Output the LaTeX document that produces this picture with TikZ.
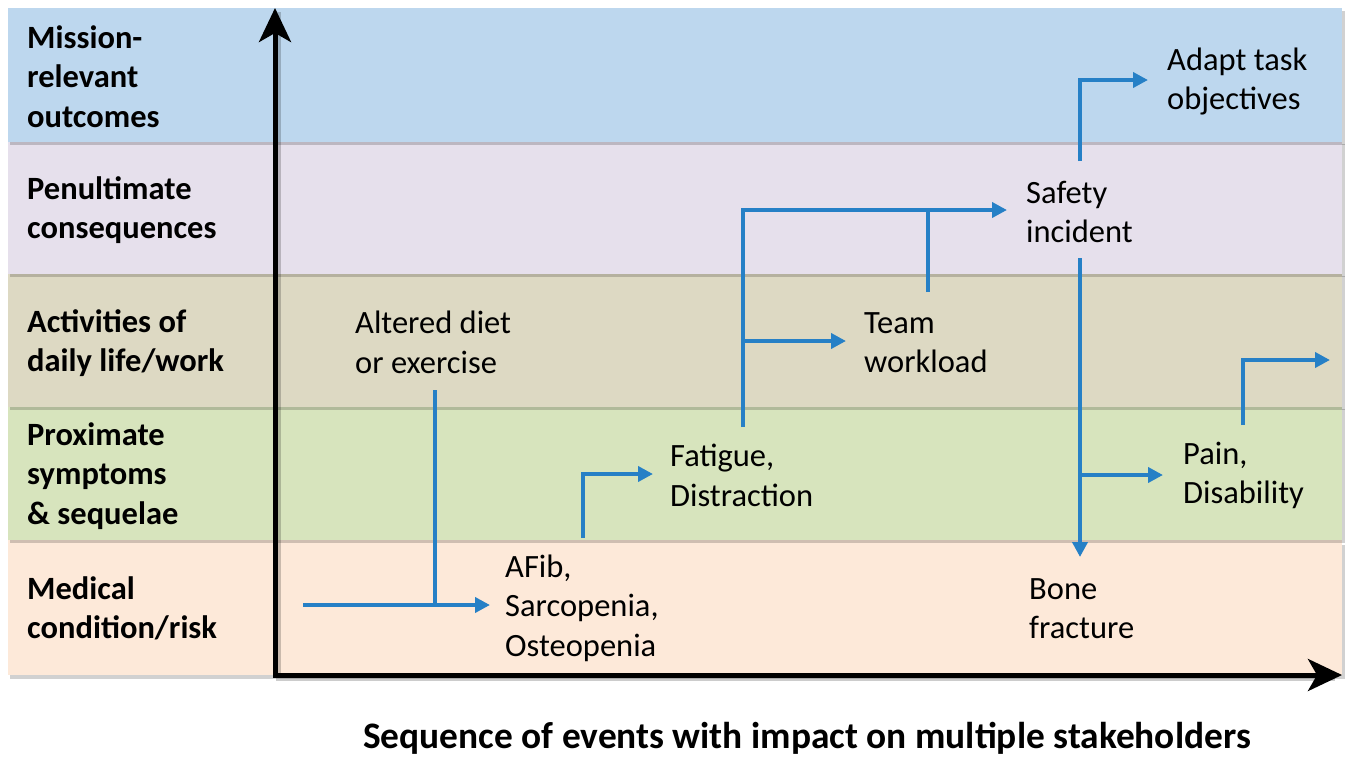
\documentclass[tikz,border=0pt]{standalone}
\usepackage{fontspec}
\setmainfont{Carlito}
\usetikzlibrary{arrows.meta}

\definecolor{bandBlue}{RGB}{189,215,238}
\definecolor{bandLilac}{RGB}{230,224,236}
\definecolor{bandTan}{RGB}{221,217,195}
\definecolor{bandGreen}{RGB}{215,228,189}
\definecolor{bandPeach}{RGB}{253,233,217}
\definecolor{flowBlue}{RGB}{38,128,198}

\tikzset{
  band/.style={fill=#1, draw=none},
  bandshadow/.style={fill=black, opacity=0.18, draw=none},
  rowlabel/.style={anchor=west, inner sep=0pt, align=left,
    font=\fontsize{32.5}{39.5}\selectfont\bfseries},
  event/.style={anchor=west, inner sep=0pt, align=left,
    font=\fontsize{32.5}{39.5}\selectfont},
  flowline/.style={draw=flowBlue, line width=4.3pt},
  flow/.style={flowline, -{Triangle[length=15pt,width=15pt]}},
  axis/.style={draw=black, line width=5pt, line join=miter,
    {Stealth[length=34pt,width=32pt,inset=9pt]}-{Stealth[length=34pt,width=32pt,inset=9pt]}},
  axisshadow/.style={draw=black, opacity=0.2, line width=5pt}
}

\begin{document}
\begin{tikzpicture}[x=1pt,y=-1pt]
\useasboundingbox[fill=white] (0,0) rectangle (1350,758);

% horizontal bands, bottom row first so each shadow falls on the row below
\fill[bandshadow] (10,545) rectangle (1345,679);
\fill[band=bandPeach] (8,540) rectangle (1342,675);
\fill[bandshadow] (10,409) rectangle (1345,543);
\fill[band=bandGreen] (8,407) rectangle (1342,540);
\fill[bandshadow] (10,276) rectangle (1345,410);
\fill[band=bandTan] (8,274) rectangle (1342,407);
\fill[bandshadow] (10,144) rectangle (1345,277);
\fill[band=bandLilac] (8,142) rectangle (1342,274);
\fill[bandshadow] (10,11) rectangle (1345,145);
\fill[band=bandBlue] (8,8) rectangle (1342,142);

% row labels
\node[rowlabel] (rowMission) at (27,76.5) {Mission-\\relevant\\outcomes};
\node[rowlabel] (rowPenult) at (27,210) {Penultimate\\consequences};
\node[rowlabel] (rowDaily) at (27,343) {Activities of\\daily life/work};
\node[rowlabel] (rowProx) at (27,476) {Proximate\\symptoms\\\& sequelae};
\node[rowlabel] (rowMed) at (27,608.5) {Medical\\condition/risk};

% axes
\draw[axisshadow] (278,12) -- (278,678) -- (1335,678);
\draw[axis] (275,8) -- (275,675) -- (1342,675);

% events
\node[event] (altered) at (355,342.5) {Altered diet\\or exercise};
\node[event] (afib) at (505,608) {AFib,\\Sarcopenia,\\Osteopenia};
\node[event] (fatigue) at (670,475.5) {Fatigue,\\Distraction};
\node[event] (team) at (864,342.5) {Team\\workload};
\node[event] (safety) at (1026,212) {Safety\\incident};
\node[event] (adapt) at (1167,81.5) {Adapt task\\objectives};
\node[event] (pain) at (1183,475.5) {Pain,\\Disability};
\node[event] (bone) at (1029,608.5) {Bone\\fracture};

% connector end points and junctions
\coordinate (startIn) at (303,605);
\coordinate (alteredOut) at (435,390);
\coordinate (alteredJoin) at (435,605);
\coordinate (afibIn) at (490,605);
\coordinate (afibOut) at (583,538);
\coordinate (fatigueIn) at (653,474);
\coordinate (fatigueOut) at (743,427);
\coordinate (fatigueBranch) at (743,341);
\coordinate (teamIn) at (846,341);
\coordinate (safetyIn) at (1007,210);
\coordinate (teamOut) at (928,292);
\coordinate (safetyUp) at (1080,161);
\coordinate (adaptIn) at (1148,80);
\coordinate (safetyDown) at (1080,258);
\coordinate (boneIn) at (1080,557);
\coordinate (safetyBranch) at (1080,475);
\coordinate (painIn) at (1163,475);
\coordinate (painOut) at (1243,425);
\coordinate (painNext) at (1330,360);

% connectors
\draw[flow] (startIn) -- (afibIn);
\draw[flowline] (alteredOut) -- (alteredJoin);
\draw[flow] (afibOut) |- (fatigueIn);
\draw[flow] (fatigueOut) |- (safetyIn);
\draw[flow] (fatigueBranch) -- (teamIn);
\draw[flowline] (teamOut) -- (teamOut |- safetyIn);
\draw[flow] (safetyUp) |- (adaptIn);
\draw[flow] (safetyDown) -- (boneIn);
\draw[flow] (safetyBranch) -- (painIn);
\draw[flow] (painOut) |- (painNext);

% caption under the horizontal axis
\node[font=\fontsize{37.4}{40}\selectfont\bfseries, inner sep=0pt] (caption) at (807,738) {Sequence of events with impact on multiple stakeholders};
\end{tikzpicture}
\end{document}
